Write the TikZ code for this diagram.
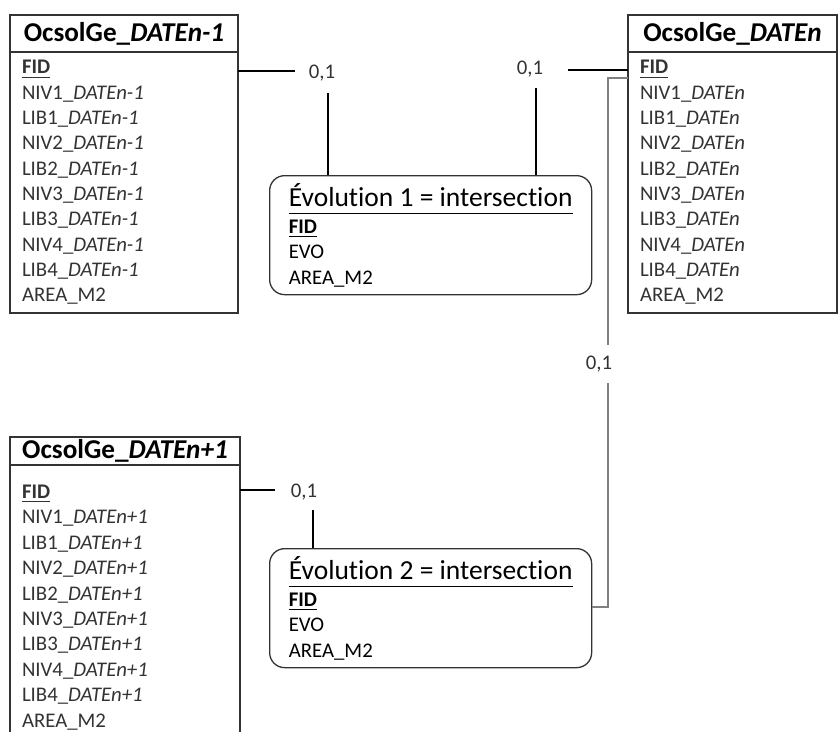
\documentclass[tikz,border=0pt]{standalone}
\usepackage{fontspec}
\setmainfont{Carlito}[Ligatures=NoCommon]
\usetikzlibrary{positioning}

% underline with a rule at a chosen depth
\newcommand{\ulbar}[2][4pt]{\leavevmode\setbox0\hbox{#2}\rlap{\rule[-#1]{\wd0}{1.4pt}}\box0}
% the fields of one OcsolGe table
\newcommand{\ocsfields}[1]{\ulbar{\textbf{FID}}\\ NIV1\_\textit{#1}\\ LIB1\_\textit{#1}\\ NIV2\_\textit{#1}\\ LIB2\_\textit{#1}\\
  NIV3\_\textit{#1}\\ LIB3\_\textit{#1}\\ NIV4\_\textit{#1}\\ LIB4\_\textit{#1}\\ AREA\_M2}

\begin{document}
\begin{tikzpicture}[x=1pt, y=-1pt,
    tblhead/.style={draw=black!80, line width=1.3pt, outer sep=0pt, inner sep=0pt, font=\fontsize{27.2}{30}\selectfont\bfseries},
    tblbody/.style={draw=black!80, line width=1.3pt, outer sep=0pt, inner xsep=12pt, align=left, text=black!80, font=\fontsize{20.8}{25.3}\selectfont},
    evo/.style={draw=black!80, line width=1.3pt, rounded corners=15pt, minimum width=322pt, minimum height=119pt, align=left, text=black!80, font=\fontsize{20.8}{25.5}\selectfont},
    link/.style={line width=2pt},
    graylink/.style={line width=1.3pt, draw=black!50},
    card/.style={fill=white, inner sep=0pt, text=black!80, font=\fontsize{20.8}{24}\selectfont}]
    \useasboundingbox (0,0) rectangle (838,731);
    \fill[white] (0,0) rectangle (838,731);

    % tables
    \node[tblhead, minimum width=228pt, minimum height=37pt, anchor=north west] (hprev) at (10,15) {OcsolGe\_\textit{DATEn-1}};
    \node[tblbody, text width=204pt, minimum height=261pt, below=0pt of hprev] (bprev) {\ocsfields{DATEn-1}};

    \node[tblhead, minimum width=209pt, minimum height=37pt, anchor=north west] (hcur) at (628,15) {OcsolGe\_\textit{DATEn}};
    \node[tblbody, text width=185pt, minimum height=261pt, below=0pt of hcur] (bcur) {\ocsfields{DATEn}};

    \node[tblhead, minimum width=230pt, minimum height=28pt, anchor=north west] (hnext) at (10,437) {OcsolGe\_\textit{DATEn+1}};
    \node[tblbody, text width=206pt, inner ysep=20pt, font=\fontsize{20.8}{25.4}\selectfont, below=0pt of hnext] (bnext) {\ocsfields{DATEn+1}};

    % intersections
    \node[evo, anchor=north west] (evo1) at (269,175)
      {\ulbar[8pt]{\color{black}\fontsize{27.5}{30}\selectfont Évolution 1 = intersection}\\[1.5pt] \ulbar{\textbf{FID}}\\ EVO\\ AREA\_M2};
    \node[evo, anchor=north west] (evo2) at (269,548)
      {\ulbar[8pt]{\color{black}\fontsize{27.5}{30}\selectfont Évolution 2 = intersection}\\[1.5pt] \ulbar{\textbf{FID}}\\ EVO\\ AREA\_M2};

    % links
    \coordinate (c1) at (328,71);
    \coordinate (c2) at (536,70);
    \coordinate (c3) at (313,489.5);
    \coordinate (c4) at (608,78);
    \coordinate (c5) at (608,607);
    \draw[link] (c1 -| bprev.east) -- (c1) -- (c1 |- evo1.north);
    \draw[link] (c2 -| bcur.west) -- (c2) -- (c2 |- evo1.north);
    \draw[link] (c3 -| bnext.east) -- (c3) -- (c3 |- evo2.north);
    \draw[graylink] (c4 -| bcur.west) -- (c4) -- (c5) -- (c5 -| evo2.east);

    % cardinalities
    \node[card, minimum width=54pt, minimum height=40pt] (card1) at (322,73) {0,1};
    \node[card, minimum width=76pt, minimum height=38pt] (card2) at (530,69) {0,1};
    \node[card, minimum width=58pt, minimum height=36pt] (card3) at (304,492) {0,1};
    \node[card, minimum width=36pt, minimum height=38pt] (card4) at (599,364) {0,1};
\end{tikzpicture}
\end{document}
